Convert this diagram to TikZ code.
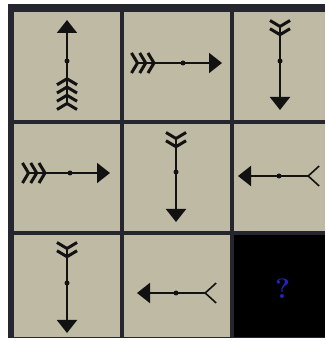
\documentclass[tikz,border=0pt]{standalone}
\usepackage{xcolor}
\usepackage{tikz}
\usetikzlibrary{positioning,arrows.meta}

\definecolor{panel}{RGB}{190,186,164}
\definecolor{framec}{RGB}{38,38,46}
\definecolor{ink}{RGB}{18,18,18}
\definecolor{qblue}{RGB}{35,35,190}

\begin{document}
\begin{tikzpicture}[
  x=1pt, y=1pt,
  cell/.style={fill=panel,inner sep=0pt,outer sep=0pt,minimum width=106pt,minimum height=108pt},
  hub/.style={circle,fill=ink,inner sep=0pt,minimum size=5pt},
  shaft/.style={draw=ink,line width=2pt},
  fl/.tip={Straight Barb[reversed,length=6pt,width=20pt,line width=3pt,sep=-1pt]},
  flo/.tip={Straight Barb[reversed,length=11pt,width=20pt,line width=1.6pt]},
  hd/.tip={Triangle[length=13pt,width=20pt]},
  tailfour/.style={{fl[]fl[]fl[]fl[]}-{hd[]}},
  tailthree/.style={{fl[]fl[]fl[]}-{hd[]}},
  tailtwo/.style={{fl[]fl[]}-{hd[]}},
  tailopen/.style={{flo[]}-{hd[]}}
    ]
\useasboundingbox (0,0) rectangle (325,341);
\fill[white] (0,0) rectangle (325,341);
\fill[framec] (8,3) rectangle (325,337);

% the nine squares
\node[cell,anchor=north west] (c11) at (14,329) {};
\node[cell,right=4pt of c11] (c12) {};
\node[cell,minimum width=91pt,right=4pt of c12] (c13) {};
\node[cell,minimum height=107pt,below=4pt of c11] (c21) {};
\node[cell,minimum height=107pt,right=4pt of c21] (c22) {};
\node[cell,minimum height=107pt,minimum width=91pt,right=4pt of c22] (c23) {};
\node[cell,minimum height=102pt,below=4pt of c21] (c31) {};
\node[cell,minimum height=102pt,right=4pt of c31] (c32) {};
\node[cell,minimum height=102pt,minimum width=91pt,fill=black,right=4pt of c32] (c33) {};

% ends of the arrows
\coordinate (t1) at ([shift={(0,-44)}]c11.center);
\coordinate (h1) at ([shift={(0,46)}]c11.center);
\coordinate (t2) at ([shift={(-46,3)}]c12.center);
\coordinate (h2) at ([shift={(45,3)}]c12.center);
\coordinate (t3) at ([shift={(0.5,46)}]c13.center);
\coordinate (h3) at ([shift={(0.5,-44)}]c13.center);
\coordinate (t4) at ([shift={(-45,4.5)}]c21.center);
\coordinate (h4) at ([shift={(43,4.5)}]c21.center);
\coordinate (t5) at ([shift={(-1,45.5)}]c22.center);
\coordinate (h5) at ([shift={(-1,-44.5)}]c22.center);
\coordinate (t6) at ([shift={(40.5,1.5)}]c23.center);
\coordinate (h6) at ([shift={(-41.5,1.5)}]c23.center);
\coordinate (t7) at ([shift={(0,44)}]c31.center);
\coordinate (h7) at ([shift={(0,-47)}]c31.center);
\coordinate (t8) at ([shift={(40,-7)}]c32.center);
\coordinate (h8) at ([shift={(-40,-7)}]c32.center);

\draw[shaft,tailfour] (t1) -- (h1);
\draw[shaft,tailthree] (t2) -- (h2);
\draw[shaft,tailtwo] (t3) -- (h3);
\draw[shaft,tailthree] (t4) -- (h4);
\draw[shaft,tailtwo] (t5) -- (h5);
\draw[shaft,tailopen] (t6) -- (h6);
\draw[shaft,tailtwo] (t7) -- (h7);
\draw[shaft,tailopen] (t8) -- (h8);

% middle dots
\node[hub] (d1) at ([shift={(0,5)}]c11.center) {};
\node[hub] (d2) at ([shift={(6,3)}]c12.center) {};
\node[hub] (d3) at ([shift={(0.5,5)}]c13.center) {};
\node[hub] (d4) at ([shift={(3,4.5)}]c21.center) {};
\node[hub] (d5) at ([shift={(-1,5.5)}]c22.center) {};
\node[hub] (d6) at ([shift={(-0.5,1.5)}]c23.center) {};
\node[hub] (d7) at ([shift={(0,3)}]c31.center) {};
\node[hub] (d8) at ([shift={(-1,-7)}]c32.center) {};

\node[text=qblue,font=\fontsize{28}{28}\selectfont\bfseries] (q) at ([shift={(3,-3)}]c33.center) {?};
\end{tikzpicture}
\end{document}
